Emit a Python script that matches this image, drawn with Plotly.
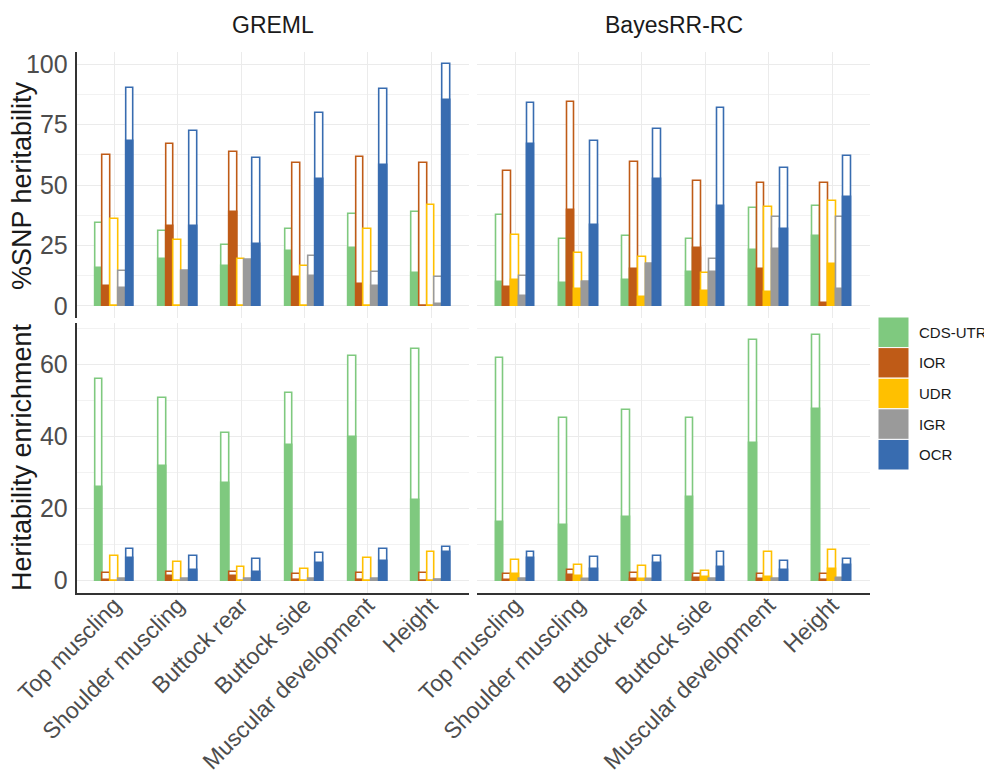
import plotly.graph_objects as go

# ---------------- data ----------------
traits = ["Top muscling", "Shoulder muscling", "Buttock rear", "Buttock side",
          "Muscular development", "Height"]
methods = ["GREML", "BayesRR-RC"]
regions = ["CDS-UTR", "IOR", "UDR", "IGR", "OCR"]
region_colors = ["#7FC97F", "#BF5B17", "#FFC000", "#9A9A9A", "#386CB0"]

# rows = regions (CDS-UTR, IOR, UDR, IGR, OCR); columns = traits
greml_h2_est = [
    [15.7, 19.2, 16.4, 22.8, 24.0, 13.6],
    [8.2, 32.9, 38.7, 12.1, 8.9, 0.0],
    [0.0, 0.0, 0.0, 0.0, 0.0, 0.0],
    [7.4, 14.5, 19.1, 12.4, 8.3, 0.8],
    [68.3, 32.9, 25.4, 52.3, 58.4, 85.3],
]
greml_h2_upper = [
    [34.1, 30.8, 25.1, 31.7, 38.1, 39.0],
    [62.5, 67.0, 63.8, 59.3, 61.5, 59.3],
    [35.9, 27.3, 19.4, 16.5, 31.9, 41.7],
    [14.5, 14.5, 19.1, 20.5, 14.2, 11.9],
    [90.2, 72.3, 61.0, 79.8, 89.8, 100.0],
]
bayes_h2_est = [
    [10.0, 9.3, 10.6, 13.9, 23.2, 28.8],
    [8.0, 39.6, 15.4, 24.0, 15.1, 1.1],
    [10.6, 7.0, 3.7, 6.1, 5.6, 17.3],
    [4.1, 10.0, 17.2, 13.9, 23.7, 7.1],
    [66.8, 33.6, 52.4, 41.3, 31.9, 44.9],
]
bayes_h2_upper = [
    [37.7, 27.6, 28.9, 27.6, 40.5, 41.5],
    [55.7, 84.4, 59.6, 51.6, 50.8, 50.8],
    [29.5, 21.7, 20.1, 13.8, 40.9, 43.5],
    [12.4, 10.0, 17.2, 19.2, 36.8, 36.6],
    [84.0, 68.2, 73.0, 81.7, 56.9, 62.2],
]
greml_enr_est = [
    [26.0, 31.9, 27.2, 37.7, 39.8, 22.4],
    [0.3, 1.2, 1.3, 0.3, 0.3, 0.0],
    [0.0, 0.0, 0.0, 0.0, 0.0, 0.0],
    [0.4, 0.4, 0.4, 0.4, 0.4, 0.1],
    [6.4, 3.1, 2.3, 4.9, 5.5, 8.1],
]
greml_enr_upper = [
    [55.9, 50.6, 41.1, 52.0, 62.4, 64.2],
    [2.2, 2.4, 2.4, 2.0, 2.2, 2.1],
    [6.9, 5.3, 3.8, 3.2, 6.2, 8.0],
    [0.4, 0.4, 0.4, 0.4, 0.4, 0.1],
    [8.7, 6.9, 5.9, 7.7, 8.7, 9.5],
]
bayes_enr_est = [
    [16.4, 15.6, 17.8, 23.1, 38.1, 47.6],
    [0.3, 1.5, 0.6, 0.9, 0.6, 0.1],
    [2.0, 1.3, 0.6, 1.1, 1.0, 3.3],
    [0.4, 0.3, 0.3, 0.5, 0.5, 0.6],
    [6.3, 3.2, 5.0, 3.9, 3.1, 4.3],
]
bayes_enr_upper = [
    [61.9, 45.1, 47.5, 45.2, 66.7, 68.1],
    [2.0, 3.1, 2.1, 1.9, 1.9, 1.9],
    [5.7, 4.3, 4.0, 2.8, 7.9, 8.4],
    [0.5, 0.4, 0.4, 0.6, 0.6, 0.7],
    [8.1, 6.6, 7.0, 7.9, 5.6, 6.1],
]

y_titles = ["%SNP heritability", "Heritability enrichment"]

# ---------------- layout helpers ----------------
# The page body has an 8px margin, so the figure is drawn 8px in from the
# top-left corner of the window; positions below are window pixels.
PAGE_OFF = 8
W, H = 992 - PAGE_OFF, 776 - PAGE_OFF


def px(x):
    return (x - PAGE_OFF) / W


def py(y):
    return 1 - (y - PAGE_OFF) / H


x_domains = [[px(76.5), px(469)], [px(477.3), px(870)]]
y_domains = [[py(318), py(52)], [py(593), py(323)]]
y_ranges = [[-5, 105], [-3.4, 71.5]]
y_dticks = [25, 20]

panels = [
    (0, 0, greml_h2_est, greml_h2_upper),
    (0, 1, bayes_h2_est, bayes_h2_upper),
    (1, 0, greml_enr_est, greml_enr_upper),
    (1, 1, bayes_enr_est, bayes_enr_upper),
]

bar_w = 0.122
start_off = -0.305

fig = go.Figure()

for row, col, est, upp in panels:
    k = row * 2 + col + 1
    xa = "x" if k == 1 else f"x{k}"
    ya = "y" if k == 1 else f"y{k}"
    for i, reg in enumerate(regions):
        c = region_colors[i]
        off = start_off + i * bar_w
        fig.add_trace(go.Bar(
            x=traits, y=upp[i], width=bar_w, offset=off,
            marker=dict(color="white", line=dict(color=c, width=1.6)),
            xaxis=xa, yaxis=ya, showlegend=False, name=reg,
        ))
        fig.add_trace(go.Bar(
            x=traits, y=est[i], width=bar_w, offset=off,
            marker=dict(color=c, line=dict(color=c, width=1.6)),
            xaxis=xa, yaxis=ya, showlegend=False, name=reg,
        ))

layout = dict(
    width=W, height=H,
    margin=dict(l=0, r=0, t=0, b=0, autoexpand=False),
    paper_bgcolor="white", plot_bgcolor="white",
    barmode="overlay", bargap=0,
    font=dict(family="Liberation Sans, Arial, sans-serif", color="#1A1A1A"),
    showlegend=False,
)

grid_major = "#EBEBEB"
grid_minor = "#F2F2F2"
axis_line = "#333333"

for row in range(2):
    for col in range(2):
        k = row * 2 + col + 1
        xkey = "xaxis" if k == 1 else f"xaxis{k}"
        ykey = "yaxis" if k == 1 else f"yaxis{k}"
        xanchor = "y" if k == 1 else f"y{k}"
        yanchor = "x" if k == 1 else f"x{k}"
        layout[xkey] = dict(
            domain=x_domains[col], anchor=xanchor, automargin=False,
            type="category", categoryorder="array", categoryarray=traits,
            range=[-0.6, len(traits) - 0.4],
            showgrid=True, gridcolor=grid_major, gridwidth=1.2,
            showline=(row == 1), linecolor=axis_line, linewidth=1.6,
            showticklabels=(row == 1), tickangle=-45,
            tickfont=dict(size=23, color="#4D4D4D"),
            ticks="", ticklabelstandoff=-12,
            zeroline=False, fixedrange=True,
        )
        layout[ykey] = dict(
            domain=y_domains[row], anchor=yanchor, automargin=False,
            range=y_ranges[row], dtick=y_dticks[row], tick0=0,
            showgrid=True, gridcolor=grid_major, gridwidth=1.2,
            minor=dict(dtick=y_dticks[row] / 2, showgrid=True,
                       gridcolor=grid_minor, gridwidth=0.8),
            showline=(col == 0), linecolor=axis_line, linewidth=1.6,
            showticklabels=(col == 0),
            tickfont=dict(size=25, color="#4D4D4D"),
            ticks="", ticklabelstandoff=2,
            zeroline=False, fixedrange=True,
        )

fig.update_layout(**layout)

# strip titles
for col, m in enumerate(methods):
    fig.add_annotation(
        text=m, xref="paper", yref="paper",
        x=(x_domains[col][0] + x_domains[col][1]) / 2, y=py(25),
        showarrow=False, font=dict(size=23, color="#1A1A1A"),
        xanchor="center", yanchor="middle",
    )

# y-axis titles
y_title_pos = [(22, 186), (22, 457)]
for (tx, ty), t in zip(y_title_pos, y_titles):
    fig.add_annotation(
        text=t, xref="paper", yref="paper", x=px(tx), y=py(ty),
        showarrow=False, textangle=-90, font=dict(size=27, color="#1A1A1A"),
        xanchor="center", yanchor="middle", borderpad=0,
    )

# legend (keys drawn as squares)
key_x0, key_x1 = 878, 909
key_top, key_h = 317, 30.6
for i, (reg, c) in enumerate(zip(regions, region_colors)):
    y0 = key_top + i * key_h
    fig.add_shape(
        type="rect", xref="paper", yref="paper",
        x0=px(key_x0), x1=px(key_x1), y0=py(y0 + key_h), y1=py(y0),
        fillcolor=c, line=dict(color="white", width=1),
    )
    fig.add_annotation(
        text=reg, xref="paper", yref="paper",
        x=px(917), y=py(y0 + key_h / 2), showarrow=False,
        xanchor="left", yanchor="middle",
        font=dict(size=15, color="#1A1A1A"),
    )

fig.write_html("out.html")
